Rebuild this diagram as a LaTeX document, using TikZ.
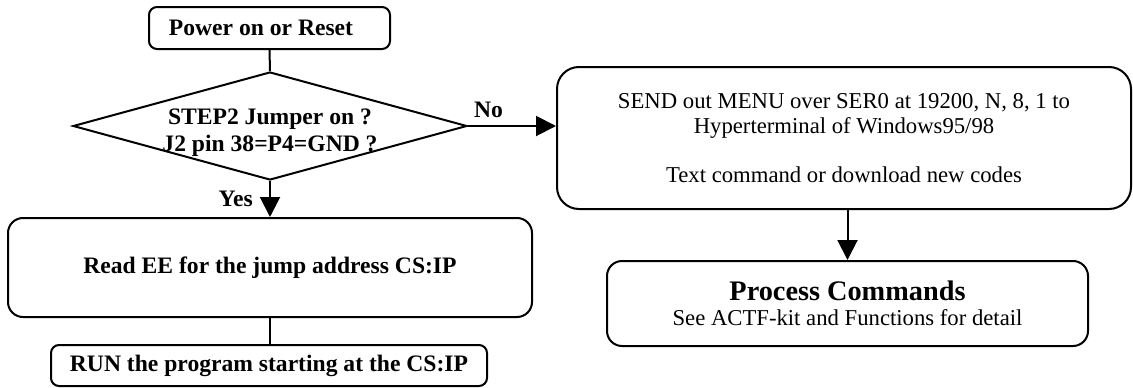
\documentclass[tikz,border=0pt]{standalone}
\usepackage{fontspec}
\setmainfont{Liberation Serif}
\usetikzlibrary{shapes.geometric,arrows.meta}
\newcommand\bft{\fontsize{23.6}{27}\selectfont\bfseries}
\newcommand\rmt{\fontsize{22.7}{24.6}\selectfont}
\newcommand\bigbf{\fontsize{28.3}{30}\selectfont\bfseries}
\begin{document}
\begin{tikzpicture}[x=1pt,y=-1pt,
  box/.style={draw, line width=2pt, rectangle, rounded corners=#1, inner sep=0pt, align=center},
  conn/.style={line width=2pt},
  arr/.style={line width=2pt, -{Triangle[length=20pt,width=20pt]}},
  lbl/.style={inner sep=0pt, font=\bft}]
\useasboundingbox (0,0) rectangle (1133,388);
\node[box=8pt, minimum width=241pt, minimum height=42pt, font=\bft] (power) at (269.5,28) {Power on or Reset\hspace*{17pt}};
\node[draw, line width=2pt, diamond, aspect=3.65, minimum width=394pt, minimum height=108pt, inner sep=0pt] (dia) at (270,126) {};
\node[inner sep=0pt, align=center, font=\bft] (diatext) at (270,133) {STEP2 Jumper on ?\\J2 pin 38=P4=GND ?};
\node[box=15pt, minimum width=524pt, minimum height=99pt, font=\bft] (read) at (270,267.5) {Read EE for the jump address CS:IP};
\node[box=8pt, minimum width=436pt, minimum height=41pt, font=\bft] (run) at (269,365.5) {RUN the program starting at the CS:IP};
\node[box=22pt, minimum width=574pt, minimum height=142pt, font=\rmt] (send) at (844,138) {SEND out MENU over SER0 at 19200, N, 8, 1 to\\Hyperterminal of Windows95/98\\[24.4pt]Text command or download new codes};
\node[box=15pt, minimum width=481pt, minimum height=85pt, font=\rmt] (proc) at (847.5,303.5) {{\bigbf Process Commands}\\See ACTF-kit and Functions for detail};
\draw[conn] (power.south) -- (dia.north);
\draw[arr] (dia.east) -- (dia.east -| send.west);
\draw[arr] (dia.south) -- (read.north);
\draw[conn] (read.south) -- (read.south |- run.north);
\draw[arr] (proc.north |- send.south) -- (proc.north);
\node[lbl, anchor=base west] (no) at ([shift={(6,-9)}]dia.east) {No};
\node[lbl, anchor=base east] (yes) at ([shift={(-17,25)}]dia.south) {Yes};
\end{tikzpicture}
\end{document}
